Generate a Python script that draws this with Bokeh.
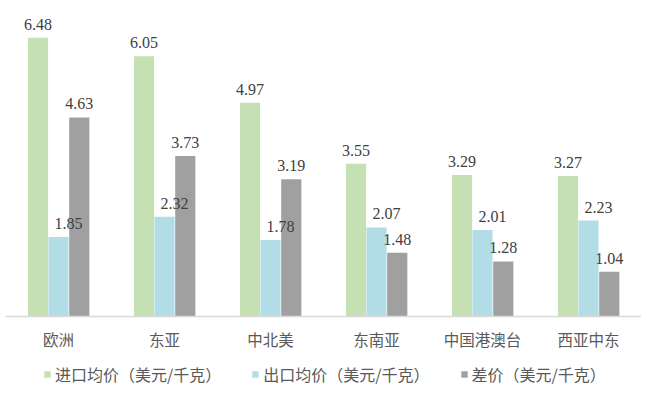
from bokeh.plotting import figure
from bokeh.models import ColumnDataSource, FactorRange, Range1d, Legend, LegendItem
from bokeh.transform import dodge
from bokeh.core.properties import value
from bokeh.embed import file_html
from bokeh.resources import INLINE

categories = ["欧洲", "东亚", "中北美", "东南亚", "中国港澳台", "西亚中东"]
import_price = [6.48, 6.05, 4.97, 3.55, 3.29, 3.27]
export_price = [1.85, 2.32, 1.78, 2.07, 2.01, 2.23]
diff_price = [4.63, 3.73, 3.19, 1.48, 1.28, 1.04]
series_names = ["进口均价（美元/千克）", "出口均价（美元/千克）", "差价（美元/千克）"]
colors = ["#c5e0b3", "#b3dde6", "#a0a0a0"]

p = figure(frame_width=636, frame_height=385, output_backend="svg", toolbar_location=None,
           x_range=FactorRange(*categories, range_padding=0), y_range=Range1d(-1.7907, 7.163),
           min_border_left=5, min_border_right=0, min_border_top=8, min_border_bottom=0)
p.outline_line_color = None
p.xgrid.grid_line_color = None
p.ygrid.grid_line_color = None
p.yaxis.visible = False

offsets = [-0.193, 0.0, 0.196]
label_dx = [0, 10, 0]
series = [import_price, export_price, diff_price]
renderers = []
sources = []
for vals, off, col in zip(series, offsets, colors):
    src = ColumnDataSource(dict(cat=categories, top=vals, lab=["%.2f" % v for v in vals]))
    sources.append(src)
    r = p.vbar(x=dodge("cat", off, range=p.x_range), top="top", bottom=0, width=0.19, source=src,
               fill_color=col, line_color=None)
    renderers.append(r)

for src, off, dx in zip(sources, offsets, label_dx):
    p.text(x=dodge("cat", off, range=p.x_range), y="top", text="lab", source=src,
           text_align="center", text_baseline="bottom",
           x_offset=dx, y_offset=-8, text_font=value("Liberation Serif"), text_font_size="16px",
           text_color="#404040")

ax = p.xaxis[0]
ax.fixed_location = 0
ax.axis_line_color = "#d9d9d9"
ax.axis_line_width = 1.5
ax.major_tick_line_color = None
ax.minor_tick_line_color = None
ax.major_label_standoff = 5
ax.major_label_text_font = "Noto Sans CJK SC"
ax.major_label_text_font_size = "15.5px"
ax.major_label_text_color = "#595959"

legend = Legend(items=[LegendItem(label=n, renderers=[r]) for n, r in zip(series_names, renderers)],
                orientation="horizontal", location=(38, 7),
                glyph_width=8, glyph_height=8, label_standoff=4, spacing=30,
                padding=0, margin=0, border_line_color=None, background_fill_alpha=0,
                label_text_font="Noto Sans CJK SC", label_text_font_size="16px",
                label_text_color="#595959", label_height=16)
p.add_layout(legend, "center")

open("out.html", "w").write(file_html(p, INLINE))
